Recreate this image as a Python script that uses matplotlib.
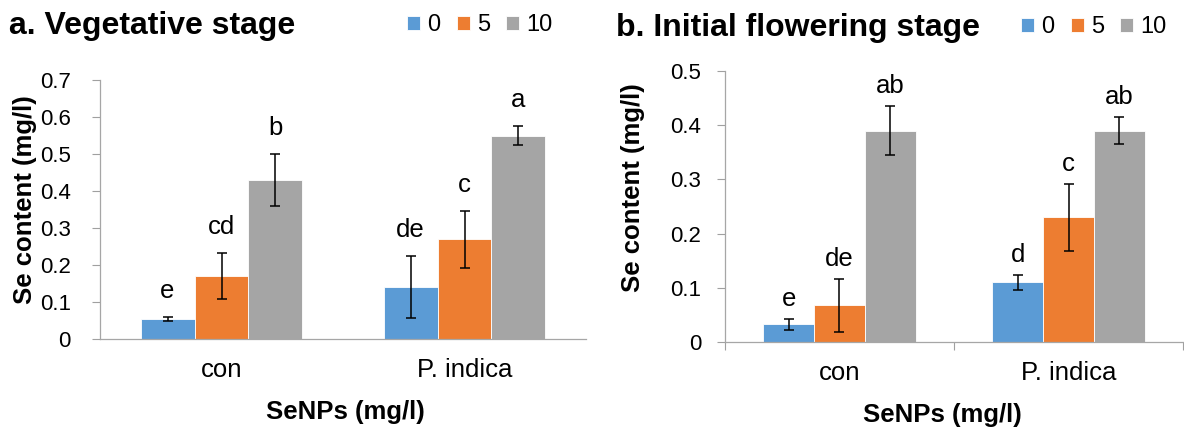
import matplotlib
matplotlib.use('Agg')
import matplotlib.pyplot as plt
import numpy as np
from matplotlib.ticker import FuncFormatter, FixedLocator

plt.rcParams['font.family'] = ['Liberation Sans', 'DejaVu Sans']

groups = ['con', 'P. indica']
doses = ['0', '5', '10']
colors = ['#5B9BD5', '#ED7D31', '#A5A5A5']

# a. vegetative stage
veg_0 = [0.055, 0.14]
veg_5 = [0.17, 0.27]
veg_10 = [0.43, 0.55]
veg_err_0 = [0.005, 0.083]
veg_err_5 = [0.063, 0.077]
veg_err_10 = [0.07, 0.025]
veg_letters_0 = ['e', 'de']
veg_letters_5 = ['cd', 'c']
veg_letters_10 = ['b', 'a']

# b. initial flowering stage
flw_0 = [0.033, 0.11]
flw_5 = [0.068, 0.23]
flw_10 = [0.39, 0.39]
flw_err_0 = [0.01, 0.014]
flw_err_5 = [0.049, 0.062]
flw_err_10 = [0.045, 0.025]
flw_letters_0 = ['e', 'd']
flw_letters_5 = ['de', 'c']
flw_letters_10 = ['ab', 'ab']

W, H = 1184, 430
fig = plt.figure(figsize=(W / 100, H / 100), dpi=100)


def px(x0, y0, x1, y1):
    return [x0 / W, 1 - y1 / H, (x1 - x0) / W, (y1 - y0) / H]


def panel(rect, means, errs, letters, ymax, title, title_xy, leg_xy,
          letter_off, ytick_pad, ylab_xy, xlab_xy, xticks_marked, cat_pad):
    ax = fig.add_axes(rect)
    x = np.arange(len(groups))
    w = 0.222
    for i in range(3):
        bars = ax.bar(x + (i - 1) * w, means[i], w, color=colors[i],
                      edgecolor='white', linewidth=0.6, label=doses[i],
                      yerr=errs[i], capsize=3.6,
                      error_kw=dict(elinewidth=1.1, capthick=1.1, ecolor='black'))
        for xi, m, e, lab in zip(x + (i - 1) * w, means[i], errs[i], letters[i]):
            ax.annotate(lab, (xi, m + e), xytext=(0, letter_off),
                        textcoords='offset pixels', ha='center', va='center',
                        fontsize=18.5)
    ax.set_xlim(-0.5, 1.5)
    ax.set_ylim(0, ymax)
    ax.set_yticks(np.arange(0, ymax + 0.001, 0.1))
    ax.yaxis.set_major_formatter(FuncFormatter(lambda v, p: '0' if abs(v) < 1e-9 else f'{v:.1f}'))
    ax.tick_params(axis='y', length=6, width=0.8, color='#A0A0A0', pad=ytick_pad, labelsize=16)
    ax.set_xticks(x)
    ax.set_xticklabels(groups)
    ax.tick_params(axis='x', length=0, pad=cat_pad, labelsize=18.5)
    if xticks_marked:
        ax.xaxis.set_minor_locator(FixedLocator([-0.5, 0.5, 1.5]))
        ax.tick_params(axis='x', which='minor', length=6, width=0.8, color='#A0A0A0')
    for s in ['top', 'right']:
        ax.spines[s].set_visible(False)
    for s in ['left', 'bottom']:
        ax.spines[s].set_color('#A6A6A6')
        ax.spines[s].set_linewidth(0.9)
    fig.text(title_xy[0] / W, 1 - title_xy[1] / H, title, fontsize=23,
             fontweight='bold', ha='left', va='center')
    ax.legend(loc='center left', bbox_to_anchor=(leg_xy[0] / W, 1 - leg_xy[1] / H),
              bbox_transform=fig.transFigure, ncol=3, frameon=False, fontsize=17,
              borderpad=0, borderaxespad=0, handlelength=0.55, handleheight=0.55,
              handletextpad=0.3, columnspacing=0.7)
    fig.text(ylab_xy[0] / W, 1 - ylab_xy[1] / H, 'Se content (mg/l)', rotation=90,
             fontsize=18.5, fontweight='bold', ha='center', va='center')
    fig.text(xlab_xy[0] / W, 1 - xlab_xy[1] / H, 'SeNPs (mg/l)',
             fontsize=18.5, fontweight='bold', ha='center', va='center')
    return ax


panel(px(100, 80, 586, 339), [veg_0, veg_5, veg_10],
      [veg_err_0, veg_err_5, veg_err_10],
      [veg_letters_0, veg_letters_5, veg_letters_10], 0.7,
      'a. Vegetative stage', (9, 26), (407, 25), 26, 15, (25, 200), (345, 412),
      False, 14)

panel(px(725, 71, 1183, 342), [flw_0, flw_5, flw_10],
      [flw_err_0, flw_err_5, flw_err_10],
      [flw_letters_0, flw_letters_5, flw_letters_10], 0.5,
      'b. Initial flowering stage', (616, 28), (1021, 27), 20, 11, (633, 188), (942, 415),
      True, 14)

fig.savefig('out.png', dpi=100)
